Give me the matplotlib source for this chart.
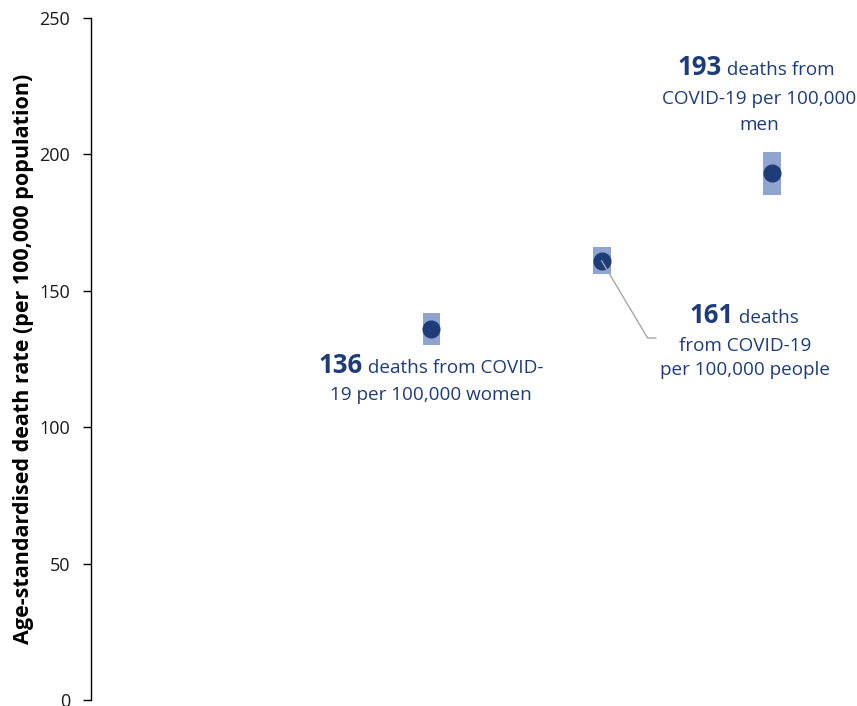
import matplotlib
matplotlib.use("Agg")
import matplotlib.pyplot as plt

plt.rcParams['font.family'] = ['Open Sans', 'DejaVu Sans']

# data: age-standardised COVID-19 death rate per 100,000
groups = ['women', 'people', 'men']
rates = [136, 161, 193]
ci_low = [130, 156, 185]
ci_high = [142, 166, 201]
yticks = [0, 50, 100, 150, 200, 250]

NAVY = '#1F3C7A'
LIGHT = '#8FA5CF'
W, H = 857, 706

fig = plt.figure(figsize=(W / 100, H / 100), dpi=100)
ax = fig.add_axes([91 / W, 6 / H, 1 - 91 / W, 682 / H])

xs = list(range(len(groups)))
ax.bar(xs, [h - l for l, h in zip(ci_low, ci_high)], bottom=ci_low,
       width=0.105, color=LIGHT, zorder=2)
ax.plot(xs, rates, 'o', ms=12, color=NAVY, zorder=3)

# leader line for the "people" label
ax.plot([xs[1], 1.27, 1.318], [rates[1], 132.7, 132.7],
        color='#A6A6A6', lw=1, zorder=4)

ax.set_xlim(-2, 2.5)
ax.set_ylim(0, 250)
ax.set_yticks(yticks)
ax.set_xticks([])
for s in ['top', 'right', 'bottom']:
    ax.spines[s].set_visible(False)
ax.spines['left'].set_linewidth(1)
ax.tick_params(axis='y', direction='out', length=6, width=1, pad=9,
               labelsize=13, labelcolor='#1a1a1a')
ax.set_ylabel('Age-standardised death rate (per 100,000 population)',
              fontsize=15.5, fontweight='bold')
ax.yaxis.set_label_coords(-0.074, 0.5)

renderer = fig.canvas.get_renderer()
FS = 13.6
FB = 18.5


def rich_line(cx, y, segments):
    texts = [fig.text(0, 1 - y / H, s, fontsize=fs, fontweight=wt,
                      color=NAVY, va='baseline', ha='left')
             for s, wt, fs in segments]
    widths = [t.get_window_extent(renderer).width for t in texts]
    x = cx - sum(widths) / 2
    for t, w in zip(texts, widths):
        t.set_x(x / W)
        x += w


def plain(cx, y, s):
    fig.text(cx / W, 1 - y / H, s, fontsize=FS, color=NAVY,
             va='baseline', ha='center')


# women
rich_line(431, 373, [(f'{rates[0]}', 'bold', FB), (' deaths from COVID-', 'normal', FS)])
plain(431, 400, f'19 per 100,000 {groups[0]}')
# people
rich_line(744, 323, [(f'{rates[1]}', 'bold', FB), (' deaths', 'normal', FS)])
plain(745, 351, 'from COVID-19')
plain(745, 375, f'per 100,000 {groups[1]}')
# men
rich_line(756, 75, [(f'{rates[2]}', 'bold', FB), (' deaths from', 'normal', FS)])
plain(759, 104, 'COVID-19 per 100,000')
plain(759, 130, groups[2])

fig.savefig('out.png', dpi=100)
